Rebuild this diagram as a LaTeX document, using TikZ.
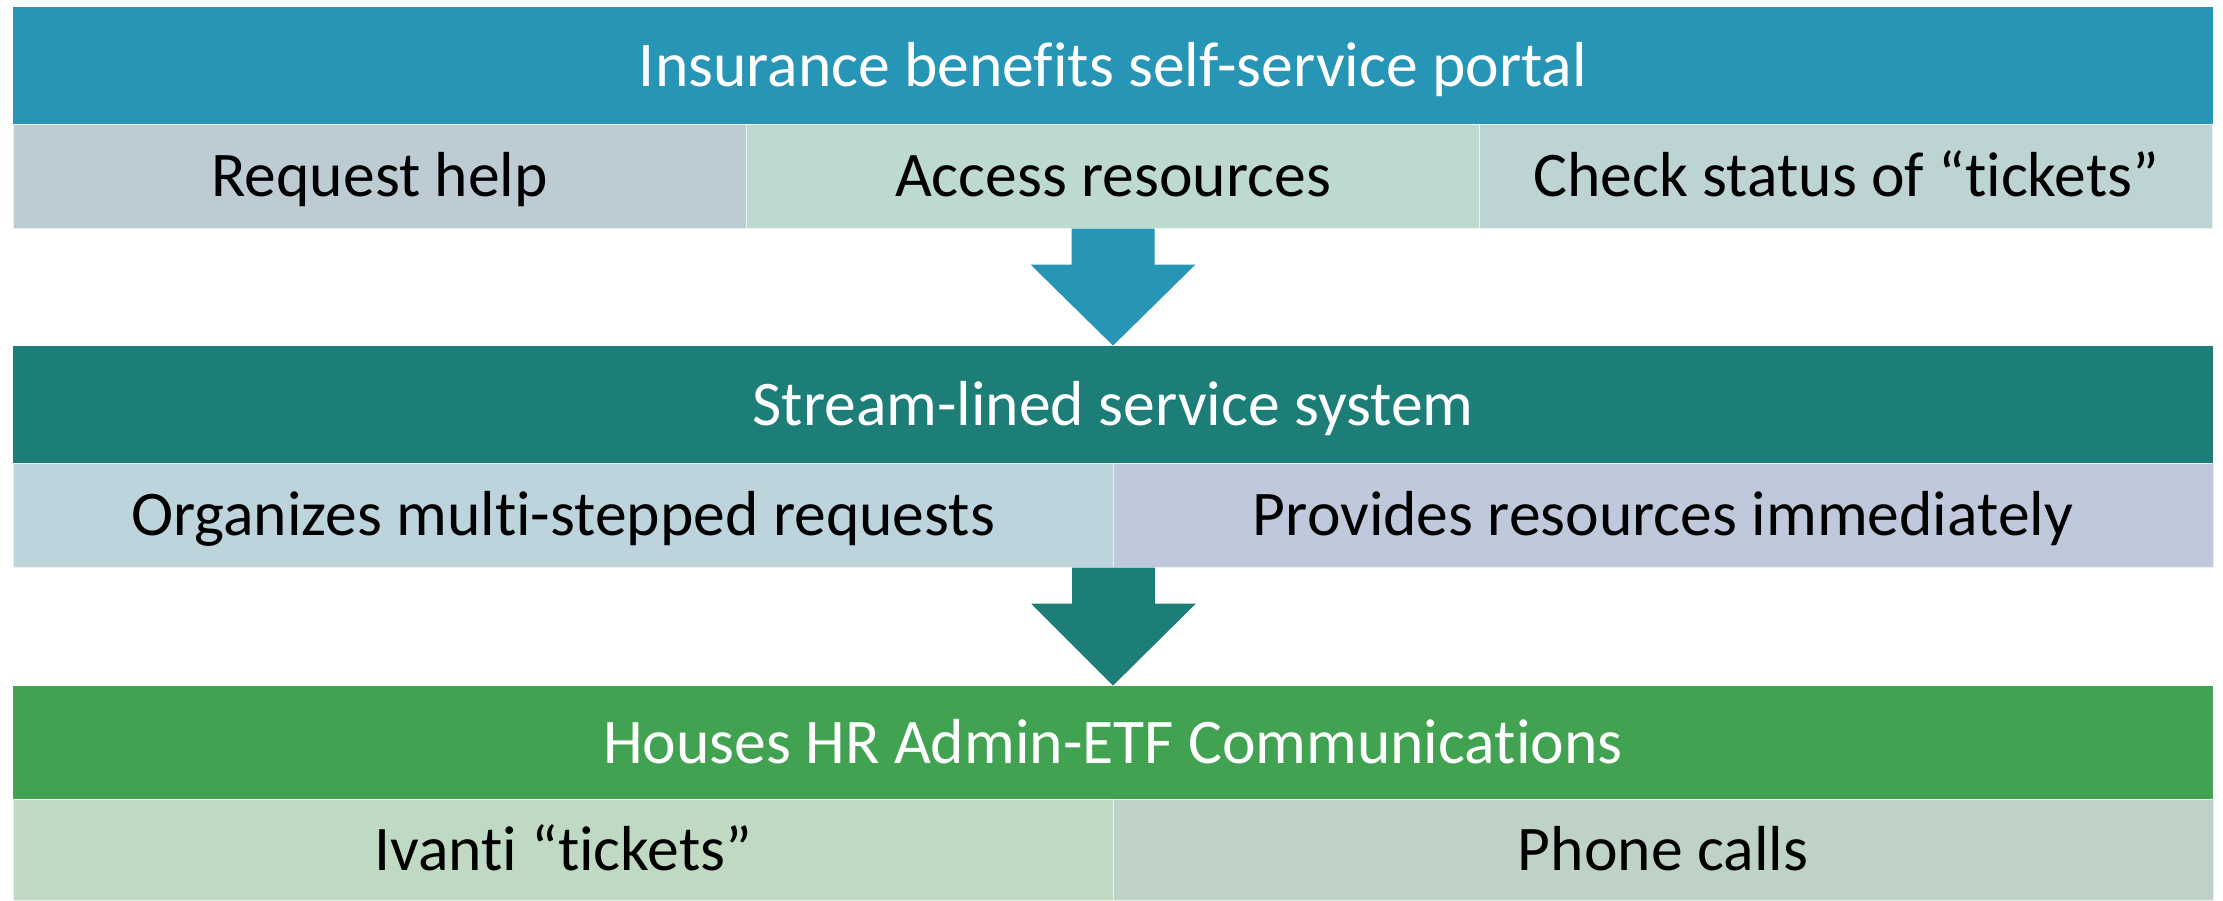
\documentclass[tikz,border=0pt]{standalone}
\usepackage{fontspec}
\setmainfont{Carlito}[Ligatures={NoCommon}]
\usetikzlibrary{calc}
\definecolor{hdrA}{HTML}{2795B6}
\definecolor{hdrB}{HTML}{1C7E76}
\definecolor{hdrC}{HTML}{41A351}
\definecolor{sA1}{HTML}{BDCBD3}
\definecolor{sA2}{HTML}{BED9CE}
\definecolor{sA3}{HTML}{BED4D4}
\definecolor{sB1}{HTML}{BDD4DC}
\definecolor{sB2}{HTML}{BFC9DB}
\definecolor{sC1}{HTML}{BFD9C3}
\definecolor{sC2}{HTML}{BFD2C7}
\tikzset{
  cellbase/.style={rectangle, inner sep=0pt, font=\fontsize{31.8}{38}\selectfont,
    text height=20.5pt, text depth=0pt},
  header/.style={cellbase, text=white, minimum width=1100pt},
  subcell/.style={cellbase, text=black, draw=white!70!#1, fill=#1, line width=0.5pt},
}
\begin{document}
\begin{tikzpicture}[x=0.5pt,y=-0.5pt]
\useasboundingbox[fill=white] (0,0) rectangle (2223,900);
% Row 1
\node[header, fill=hdrA, minimum height=58.5pt] (h1) at (1113,65.5) {Insurance benefits self-service portal};
\node[subcell=sA1, minimum width=366.67pt, minimum height=52pt] (r1a) at (379.7,176) {Request help};
\node[subcell=sA2, minimum width=366.67pt, minimum height=52pt] (r1b) at (1113,176) {Access resources};
\node[subcell=sA3, minimum width=366.67pt, minimum height=52pt] (r1c) at (1846.3,176) {Check status of “tickets”};
% Row 2
\node[header, fill=hdrB, minimum height=58.5pt] (h2) at (1113,404.5) {Stream-lined service system};
\node[subcell=sB1, minimum width=550pt, minimum height=52pt] (r2a) at (563,515) {Organizes multi-stepped requests};
\node[subcell=sB2, minimum width=550pt, minimum height=52pt] (r2b) at (1663,515) {Provides resources immediately};
% Row 3
\node[header, fill=hdrC, minimum height=56.5pt] (h3) at (1113,742.5) {Houses HR Admin-ETF Communications};
\node[subcell=sC1, minimum width=550pt, minimum height=50.5pt] (r3a) at (563,849.5) {Ivanti “tickets”};
\node[subcell=sC2, minimum width=550pt, minimum height=50.5pt] (r3b) at (1663,849.5) {Phone calls};
% Arrows
\fill[hdrA] ($(r1b.south)+(-41.5,0)$) -- ($(r1b.south)+(41.5,0)$) -- ($(r1b.south)+(41.5,36)$)
  -- ($(r1b.south)+(82.5,36)$) -- (h2.north) -- ($(r1b.south)+(-82.5,36)$)
  -- ($(r1b.south)+(-41.5,36)$) -- cycle;
\fill[hdrB] ($(r2a.south east)+(-41.5,0)$) -- ($(r2a.south east)+(41.5,0)$) -- ($(r2a.south east)+(41.5,36)$)
  -- ($(r2a.south east)+(82.5,36)$) -- (h3.north) -- ($(r2a.south east)+(-82.5,36)$)
  -- ($(r2a.south east)+(-41.5,36)$) -- cycle;
\end{tikzpicture}
\end{document}
